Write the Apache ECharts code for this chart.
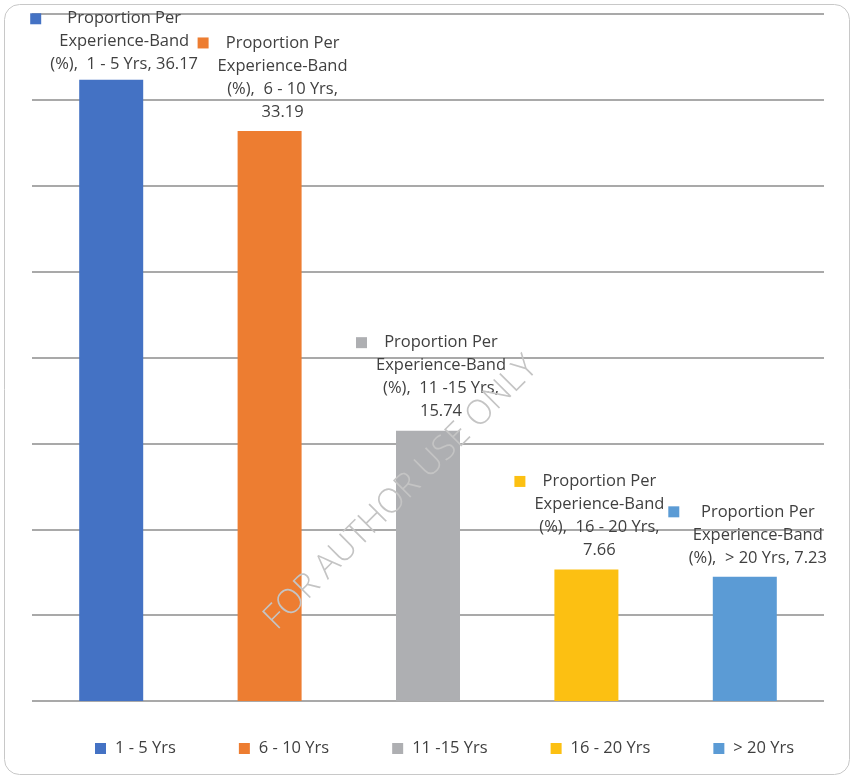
<!DOCTYPE html>
<html>
<head>
<meta charset="utf-8">
<script src="https://cdn.jsdelivr.net/npm/echarts@6/dist/echarts.min.js"></script>
<style>
  html, body { margin: 0; padding: 0; background: #ffffff; }
  #chart { width: 851px; height: 776px; }
</style>
</head>
<body>
<div id="chart"></div>
<script>
// Share of respondents in each experience band (%)
const categories = ['1 - 5 Yrs', '6 - 10 Yrs', '11 -15 Yrs', '16 - 20 Yrs', '> 20 Yrs'];
const proportions = [36.17, 33.19, 15.74, 7.66, 7.23];
const measureName = 'Proportion Per Experience-Band (%)';
const valueTicks = [0, 5, 10, 15, 20, 25, 30, 35, 40];

const palette = ['#4472C4', '#ED7D31', '#AEAFB2', '#FCC012', '#5B9BD5'];
const labelFont = '"Open Sans", "Noto Sans", sans-serif';
const labelSize = 16.5;
const textColor = '#404040';

// Measure text so every wrapped line of a data label shares one centred column
const ctx = document.createElement('canvas').getContext('2d');
ctx.font = labelSize + 'px ' + labelFont;
const textWidth = s => ctx.measureText(s).width;

function labelLines(cat, val) {
  const head = measureName.replace(' (%)', '');
  const words = head.split(' ');
  const lines = [words.slice(0, 2).join(' '), words.slice(2).join(' ')];
  const tail = '(%),  ' + cat + ', ' + val;
  if (tail.length > 22) {
    lines.push('(%),  ' + cat + ',');
    lines.push(String(val));
  } else {
    lines.push(tail);
  }
  return lines;
}

const chart = echarts.init(document.getElementById('chart'), null, { renderer: 'canvas' });

const series = categories.map((cat, i) => {
  const lines = labelLines(cat, proportions[i]);
  const colW = Math.ceil(Math.max(...lines.map(textWidth)));
  const data = categories.map((c, j) => (j === i ? proportions[i] : '-'));
  const txt = {
    width: colW, align: 'center', fontSize: labelSize, fontFamily: labelFont,
    color: textColor, lineHeight: 23
  };
  return {
    name: cat,
    type: 'bar',
    stack: 'band',
    barWidth: 64,
    data: data,
    itemStyle: { color: palette[i] },
    emphasis: { disabled: true },
    label: {
      show: true,
      position: 'top',
      distance: i === 0 ? 3.5 : 7.5,
      offset: [3, 0],
      formatter: () => lines.map((ln, k) =>
        (k === 0 ? '{m| }{g| }' : '{s| }') + '{t|' + ln + '}'
      ).join('\n'),
      rich: {
        m: { width: 11, height: 11, backgroundColor: palette[i], lineHeight: 23 },
        g: { width: 9, lineHeight: 23 },
        s: { width: 20, lineHeight: 23 },
        t: txt
      }
    }
  };
});

const option = {
  backgroundColor: '#ffffff',
  animation: false,
  grid: { left: 32, right: 27, top: 14, bottom: 75, containLabel: false },
  xAxis: {
    type: 'category',
    data: categories,
    axisLine: { show: false },
    axisTick: { show: false },
    axisLabel: { show: false },
    splitLine: { show: false }
  },
  yAxis: {
    type: 'value',
    min: valueTicks[0],
    max: valueTicks[valueTicks.length - 1],
    interval: valueTicks[1] - valueTicks[0],
    axisLine: { show: false },
    axisTick: { show: false },
    axisLabel: { show: false },
    splitLine: { show: true, lineStyle: { color: '#8c8c8c', width: 1.5 } }
  },
  legend: {
    data: categories,
    left: 95,
    top: 740,
    padding: 0,
    itemWidth: 11,
    itemHeight: 11,
    itemGap: 63,
    icon: 'rect',
    selectedMode: false,
    textStyle: { fontFamily: labelFont, fontSize: 16.5, color: textColor, lineHeight: 16, padding: [0, 0, 0, 4] }
  },
  graphic: [
    {
      type: 'rect',
      silent: true,
      shape: { x: 4.5, y: 4.5, width: 845, height: 770, r: 15 },
      style: { fill: 'none', stroke: '#c8c8c8', lineWidth: 1 }
    },
    {
      type: 'text',
      silent: true,
      x: 401,
      y: 493,
      rotation: Math.PI / 4,
      z: 100,
      style: {
        text: 'FOR AUTHOR USE ONLY',
        font: '300 34px "Open Sans", sans-serif',
        fill: '#c4c4c4',
        textAlign: 'center',
        textVerticalAlign: 'middle'
      }
    }
  ],
  series: series
};

chart.setOption(option);
</script>
</body>
</html>
